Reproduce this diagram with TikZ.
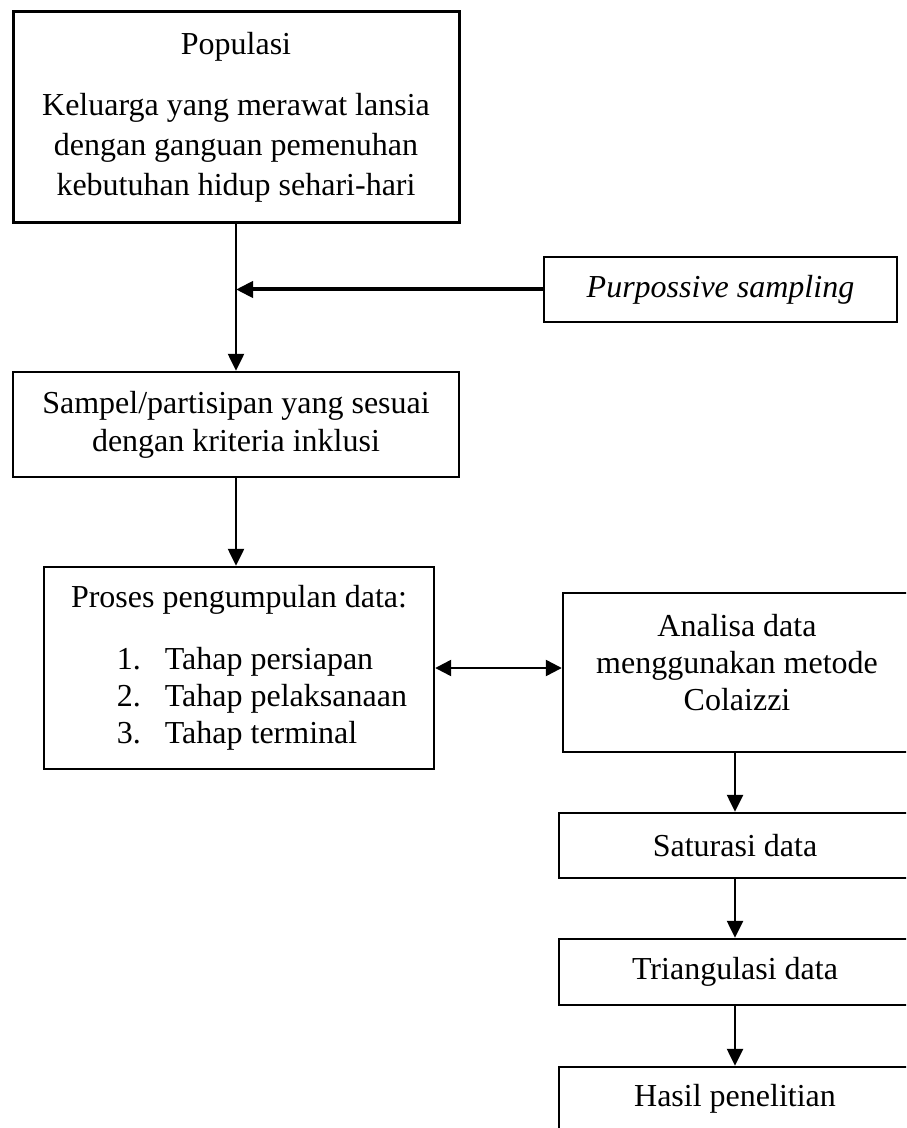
\documentclass[tikz,border=0pt]{standalone}
\usepackage{fontspec}
\setmainfont{Liberation Serif}
\usetikzlibrary{arrows.meta}
\tikzset{
  every picture/.style={line width=1.2pt},
  box/.style={draw, rectangle, align=center, inner sep=0pt, font=\fontsize{16pt}{19pt}\selectfont},
  arrow/.style={-{Triangle[length=8.5pt, width=8pt]}},
  twoway/.style={{Triangle[length=8pt, width=8pt]}-{Triangle[length=8pt, width=8pt]}},
}

\begin{document}
\begin{tikzpicture}[x=0.5pt, y=-0.5pt]
  \path[use as bounding box, clip] (0,0) rectangle (906,1128);
  % left column
  \node[box, line width=1.5pt, minimum width=223pt, minimum height=105.5pt, font=\fontsize{16pt}{20pt}\selectfont] (pop) at (236,117.5) {Populasi\\[10.5pt]Keluarga yang merawat lansia\\dengan ganguan pemenuhan\\kebutuhan hidup sehari-hari};
  \node[box, minimum width=176.5pt, minimum height=32.5pt, font=\fontsize{16pt}{19pt}\selectfont\itshape] (purp) at (720.5,289.5) {Purpossive sampling};
  \node[box, minimum width=223pt, minimum height=52.5pt] (sampel) at (236,424.5) {Sampel/partisipan yang sesuai\\dengan kriteria inklusi};
  \node[box, minimum width=195pt, minimum height=101pt, font=\fontsize{16pt}{18.5pt}\selectfont] (proses) at (239,668) {\begin{tabular}{@{}r@{}}
    Proses pengumpulan data:\\[12.5pt]
    \begin{tabular}[t]{@{}l@{\hspace{12pt}}l@{}}
      1. & Tahap persiapan\\
      2. & Tahap pelaksanaan\\
      3. & Tahap terminal
    \end{tabular}
  \end{tabular}};
  % right column
  \node[box, minimum width=174pt, minimum height=79.5pt, text depth=10pt, font=\fontsize{16pt}{18.5pt}\selectfont] (analisa) at (737,672.5) {Analisa data\\menggunakan metode\\Colaizzi};
  \node[box, minimum width=176pt, minimum height=32.5pt] (saturasi) at (735,845.5) {Saturasi data};
  \node[box, minimum width=176pt, minimum height=33pt] (triang) at (735,972) {Triangulasi data};
  \node[box, minimum width=176pt, minimum height=32pt] (hasil) at (735,1099) {Hasil penelitian};
  % connectors
  \coordinate (join) at (pop.south |- purp.west);
  \draw[arrow] (pop) -- (sampel);
  \draw[arrow, line width=2pt] (purp) -- (join);
  \draw[arrow] (sampel.south) -- (sampel.south |- proses.north);
  \draw[twoway] (proses.east) -- (proses.east -| analisa.west);
  \draw[arrow] (saturasi.north |- analisa.south) -- (saturasi);
  \draw[arrow] (saturasi) -- (triang);
  \draw[arrow] (triang) -- (hasil);
\end{tikzpicture}
\end{document}
